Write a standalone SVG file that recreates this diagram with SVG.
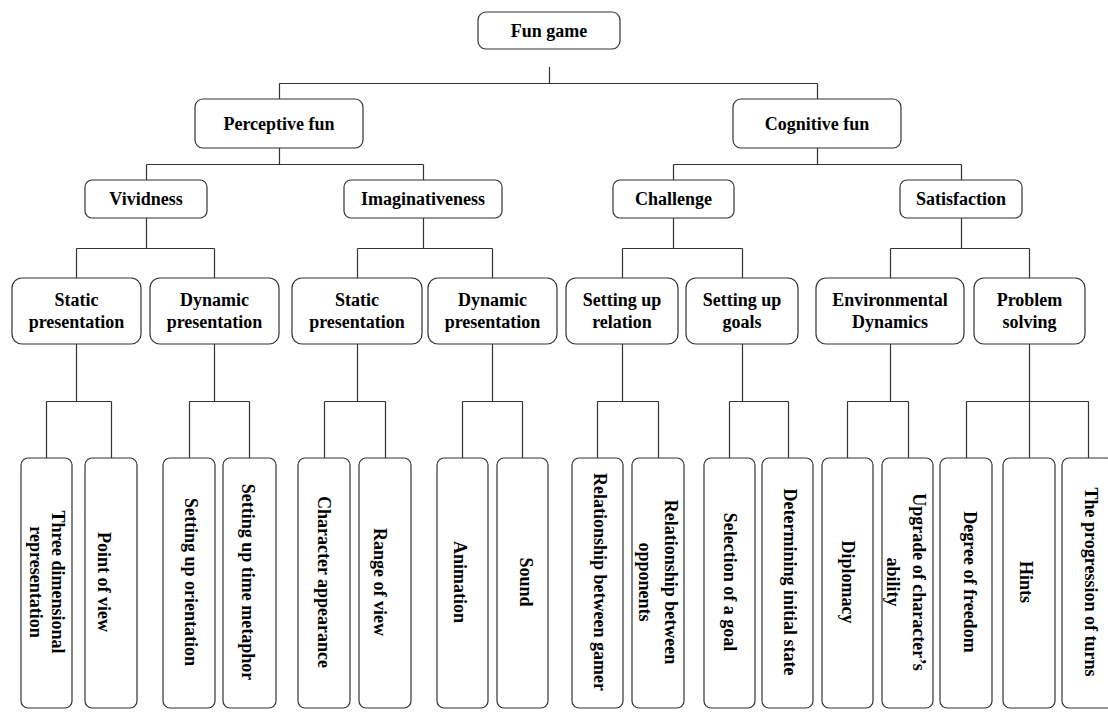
<svg xmlns="http://www.w3.org/2000/svg" width="1108" height="713" viewBox="0 0 1108 713">
<style>
.box{fill:#fff;stroke:#333;stroke-width:1.2}
.t{font-family:"Liberation Serif","Times New Roman",serif;font-weight:bold;font-size:18px;fill:#000;text-anchor:middle}
.v{font-family:"Liberation Serif","Times New Roman",serif;font-weight:bold;font-size:18px;fill:#000;text-anchor:middle;dominant-baseline:central}
.c{fill:none;stroke:#333;stroke-width:1.2}
</style>
<rect width="1108" height="713" fill="#fff"/>
<g id="connectors" class="c">
<path d="M549.5,67 V83.5 M279.5,83.5 H817.5 M279.5,83.5 V99 M817.5,83.5 V99"/>
<path d="M279.5,148 V164.5 M146.5,164.5 H423.5 M146.5,164.5 V180 M423.5,164.5 V180"/>
<path d="M817.5,148 V164.5 M673.5,164.5 H961.5 M673.5,164.5 V180 M961.5,164.5 V180"/>
<path d="M146.5,218 V248.5 M76.5,248.5 H214.5 M76.5,248.5 V278 M214.5,248.5 V278"/>
<path d="M423.5,218 V248.5 M357.5,248.5 H492.5 M357.5,248.5 V278 M492.5,248.5 V278"/>
<path d="M673.5,218 V248.5 M622.5,248.5 H742.5 M622.5,248.5 V278 M742.5,248.5 V278"/>
<path d="M961.5,218 V248.5 M890.5,248.5 H1029.5 M890.5,248.5 V278 M1029.5,248.5 V278"/>
<path d="M76.5,344 V401.5 M46.5,401.5 H111.5 M46.5,401.5 V458 M111.5,401.5 V458"/>
<path d="M214.5,344 V401.5 M189.5,401.5 H249.5 M189.5,401.5 V458 M249.5,401.5 V458"/>
<path d="M357.5,344 V401.5 M324.5,401.5 H385.5 M324.5,401.5 V458 M385.5,401.5 V458"/>
<path d="M492.5,344 V401.5 M462.5,401.5 H522.5 M462.5,401.5 V458 M522.5,401.5 V458"/>
<path d="M622.5,344 V401.5 M597.5,401.5 H658.5 M597.5,401.5 V458 M658.5,401.5 V458"/>
<path d="M742.5,344 V401.5 M729.5,401.5 H788.5 M729.5,401.5 V458 M788.5,401.5 V458"/>
<path d="M890.5,344 V401.5 M847.5,401.5 H908.5 M847.5,401.5 V458 M908.5,401.5 V458"/>
<path d="M1029.5,344 V401.5 M966.5,401.5 H1088.5 M966.5,401.5 V458 M1029.5,401.5 V458 M1088.5,401.5 V458"/>
</g>
<g id="fun-game"><rect class="box" x="478" y="12" width="142" height="37" rx="8"/><text class="t" x="549" y="37">Fun game</text></g>
<g id="perceptive-fun"><rect class="box" x="195" y="99" width="168" height="49" rx="8"/><text class="t" x="279" y="130">Perceptive fun</text></g>
<g id="cognitive-fun"><rect class="box" x="733" y="99" width="168" height="49" rx="8"/><text class="t" x="817" y="130">Cognitive fun</text></g>
<g id="vividness"><rect class="box" x="85" y="180" width="122" height="38" rx="7"/><text class="t" x="146" y="205">Vividness</text></g>
<g id="imaginativeness"><rect class="box" x="344" y="180" width="158" height="38" rx="7"/><text class="t" x="423" y="205">Imaginativeness</text></g>
<g id="challenge"><rect class="box" x="613" y="180" width="121" height="38" rx="7"/><text class="t" x="673.5" y="205">Challenge</text></g>
<g id="satisfaction"><rect class="box" x="900" y="180" width="122" height="38" rx="7"/><text class="t" x="961" y="205">Satisfaction</text></g>
<g id="static-1"><rect class="box" x="12" y="278" width="129" height="66" rx="10"/><text class="t" x="76.5" y="306">Static</text><text class="t" x="76.5" y="328">presentation</text></g>
<g id="dynamic-1"><rect class="box" x="150" y="278" width="129" height="66" rx="10"/><text class="t" x="214.5" y="306">Dynamic</text><text class="t" x="214.5" y="328">presentation</text></g>
<g id="static-2"><rect class="box" x="292" y="278" width="130" height="66" rx="10"/><text class="t" x="357" y="306">Static</text><text class="t" x="357" y="328">presentation</text></g>
<g id="dynamic-2"><rect class="box" x="428" y="278" width="129" height="66" rx="10"/><text class="t" x="492.5" y="306">Dynamic</text><text class="t" x="492.5" y="328">presentation</text></g>
<g id="setting-relation"><rect class="box" x="566" y="278" width="112" height="66" rx="10"/><text class="t" x="622" y="306">Setting up</text><text class="t" x="622" y="328">relation</text></g>
<g id="setting-goals"><rect class="box" x="686" y="278" width="112" height="66" rx="10"/><text class="t" x="742" y="306">Setting up</text><text class="t" x="742" y="328">goals</text></g>
<g id="env-dynamics"><rect class="box" x="816" y="278" width="148" height="66" rx="10"/><text class="t" x="890" y="306">Environmental</text><text class="t" x="890" y="328">Dynamics</text></g>
<g id="problem-solving"><rect class="box" x="974" y="278" width="111" height="66" rx="10"/><text class="t" x="1029.5" y="306">Problem</text><text class="t" x="1029.5" y="328">solving</text></g>
<g id="leaf-1"><rect class="box" x="21" y="458" width="51" height="250" rx="7"/><text class="v" transform="translate(57.5,582) rotate(90)">Three dimensional</text><text class="v" transform="translate(36,582) rotate(90)">representation</text></g>
<g id="leaf-2"><rect class="box" x="85" y="458" width="52" height="250" rx="7"/><text class="v" transform="translate(104,582) rotate(90)">Point of view</text></g>
<g id="leaf-3"><rect class="box" x="163" y="458" width="52" height="250" rx="7"/><text class="v" transform="translate(191,582) rotate(90)">Setting up orientation</text></g>
<g id="leaf-4"><rect class="box" x="223" y="458" width="53" height="250" rx="7"/><text class="v" transform="translate(248,582) rotate(90)">Setting up time metaphor</text></g>
<g id="leaf-5"><rect class="box" x="298" y="458" width="52" height="250" rx="7"/><text class="v" transform="translate(324,582) rotate(90)">Character appearance</text></g>
<g id="leaf-6"><rect class="box" x="359" y="458" width="52" height="250" rx="7"/><text class="v" transform="translate(379.5,582) rotate(90)">Range of view</text></g>
<g id="leaf-7"><rect class="box" x="437" y="458" width="51" height="250" rx="7"/><text class="v" transform="translate(460,582) rotate(90)">Animation</text></g>
<g id="leaf-8"><rect class="box" x="497" y="458" width="51" height="250" rx="7"/><text class="v" transform="translate(525.5,582) rotate(90)">Sound</text></g>
<g id="leaf-9"><rect class="box" x="572" y="458" width="51" height="250" rx="7"/><text class="v" transform="translate(599.5,582) rotate(90)">Relationship between gamer</text></g>
<g id="leaf-10"><rect class="box" x="632" y="458" width="52" height="250" rx="7"/><text class="v" transform="translate(671,582) rotate(90)">Relationship between</text><text class="v" transform="translate(645,582) rotate(90)">opponents</text></g>
<g id="leaf-11"><rect class="box" x="704" y="458" width="51" height="250" rx="7"/><text class="v" transform="translate(729.5,582) rotate(90)">Selection of a goal</text></g>
<g id="leaf-12"><rect class="box" x="762" y="458" width="51" height="250" rx="7"/><text class="v" transform="translate(789.5,582) rotate(90)">Determining initial state</text></g>
<g id="leaf-13"><rect class="box" x="822" y="458" width="51" height="250" rx="7"/><text class="v" transform="translate(847.5,582) rotate(90)">Diplomacy</text></g>
<g id="leaf-14"><rect class="box" x="882" y="458" width="51" height="250" rx="7"/><text class="v" transform="translate(919,582) rotate(90)">Upgrade of character’s</text><text class="v" transform="translate(893,582) rotate(90)">ability</text></g>
<g id="leaf-15"><rect class="box" x="940" y="458" width="52" height="250" rx="7"/><text class="v" transform="translate(969.5,582) rotate(90)">Degree of freedom</text></g>
<g id="leaf-16"><rect class="box" x="1003" y="458" width="52" height="250" rx="7"/><text class="v" transform="translate(1025.5,582) rotate(90)">Hints</text></g>
<g id="leaf-17"><rect class="box" x="1062" y="458" width="52" height="250" rx="7"/><text class="v" transform="translate(1090.5,582) rotate(90)">The progression of turns</text></g>
</svg>
